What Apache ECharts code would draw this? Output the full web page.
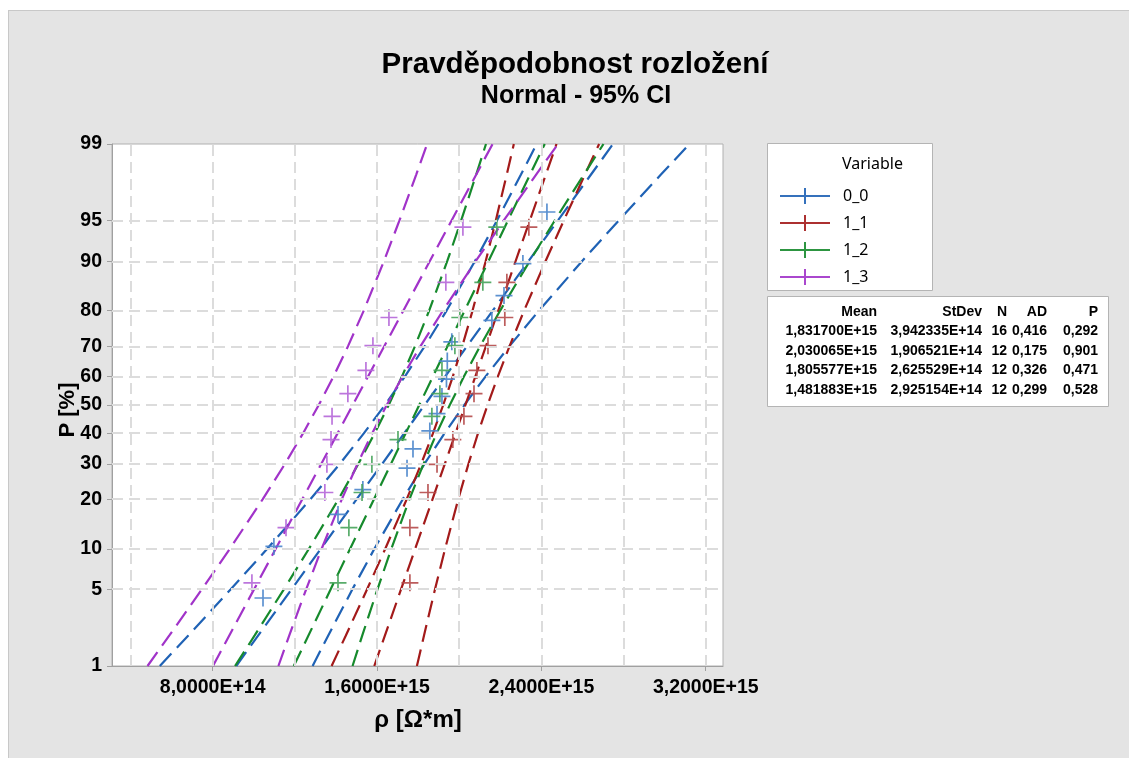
<!DOCTYPE html>
<html>
<head>
<meta charset="utf-8">
<script src="https://cdn.jsdelivr.net/npm/echarts@6/dist/echarts.min.js"></script>
<style>
html, body { margin: 0; padding: 0; background: #fff; }
#wrap { position: relative; width: 1129px; height: 758px; overflow: hidden; background: #fff; }
#frame { position: absolute; left: 8px; top: 10px; width: 1300px; height: 900px; background: #e4e4e4; border: 1px solid #c8c8c8; }
#chart { position: absolute; left: 0; top: 0; width: 1129px; height: 758px; }
</style>
</head>
<body>
<div id="wrap"><div id="frame"></div><div id="chart"></div></div>
<script>
// x values are in units of 1E+14 Ohm*m, percentiles in %
var names       = ['0_0', '1_1', '1_2', '1_3'];
var lineColors  = ['#1f62b5', '#a31a1a', '#168a2c', '#a133c9'];
var crossColors = ['#4a85cb', '#b54a4a', '#46a35a', '#b567d8'];

var pct16 = [4.27, 10.37, 16.46, 22.56, 28.66, 34.76, 40.85, 46.95, 53.05, 59.15, 65.24, 71.34, 77.44, 83.54, 89.63, 95.73];
var pct12 = [5.65, 13.71, 21.77, 29.84, 37.90, 45.97, 54.03, 62.10, 70.16, 78.23, 86.29, 94.35];

var x00 = [10.45, 10.98, 14.10, 15.31, 17.46, 17.75, 18.57, 18.92, 19.16, 19.38, 19.42, 19.64, 21.59, 22.18, 23.10, 24.27];
var x11 = [17.60, 17.60, 18.48, 18.92, 19.69, 20.23, 20.72, 20.86, 21.40, 22.22, 22.32, 23.39];
var x12 = [14.10, 14.63, 15.27, 15.75, 17.02, 18.67, 19.06, 19.16, 19.79, 20.03, 21.15, 21.83];
var x13 = [9.91, 11.57, 13.46, 13.56, 13.76, 13.81, 14.58, 15.46, 15.80, 16.58, 19.35, 20.18];

// fitted line ends (at 1 % and 99 %)
var fitPct = [1, 99];
var fit00 = [9.146, 27.488];
var fit11 = [15.866, 24.736];
var fit12 = [11.948, 24.164];
var fit13 = [8.014, 21.624];

// 95% CI bounds
var ciPct = [1, 2, 5, 10, 20, 30, 40, 50, 60, 70, 80, 90, 95, 98, 99];
var lo00 = [5.427, 6.815, 8.869, 10.657, 12.751, 14.189, 15.356, 16.385, 17.353, 18.324, 19.387, 20.762, 21.839, 23.007, 23.769];
var hi00 = [12.865, 13.627, 14.795, 15.872, 17.247, 18.310, 19.281, 20.249, 21.278, 22.445, 23.883, 25.977, 27.765, 29.819, 31.207];
var lo11 = [13.789, 14.483, 15.510, 16.401, 17.441, 18.150, 18.722, 19.222, 19.688, 20.150, 20.650, 21.288, 21.782, 22.314, 22.659];
var hi11 = [17.942, 18.287, 18.819, 19.313, 19.951, 20.451, 20.913, 21.379, 21.879, 22.451, 23.160, 24.200, 25.091, 26.118, 26.812];
var lo12 = [9.088, 10.045, 11.458, 12.686, 14.117, 15.094, 15.881, 16.570, 17.211, 17.848, 18.537, 19.416, 20.096, 20.828, 21.304];
var hi12 = [14.808, 15.283, 16.016, 16.696, 17.575, 18.264, 18.900, 19.541, 20.230, 21.017, 21.994, 23.426, 24.653, 26.067, 27.023];
var lo13 = [4.828, 5.893, 7.469, 8.836, 10.431, 11.520, 12.397, 13.164, 13.879, 14.588, 15.355, 16.334, 17.092, 17.908, 18.438];
var hi13 = [11.200, 11.730, 12.546, 13.304, 14.283, 15.050, 15.760, 16.474, 17.241, 18.118, 19.207, 20.802, 22.169, 23.745, 24.810];

// axes
var xLabelTicks = [8, 16, 24, 32];
var xGridTicks  = [4, 8, 12, 16, 20, 24, 28, 32];
var yTicks      = [1, 5, 10, 20, 30, 40, 50, 60, 70, 80, 90, 95, 99];
var yGridTicks  = [5, 10, 20, 30, 40, 50, 60, 70, 80, 90, 95];

// summary table
var statMean  = ['1,831700E+15', '2,030065E+15', '1,805577E+15', '1,481883E+15'];
var statStDev = ['3,942335E+14', '1,906521E+14', '2,625529E+14', '2,925154E+14'];
var statN     = ['16', '12', '12', '12'];
var statAD    = ['0,416', '0,175', '0,326', '0,299'];
var statP     = ['0,292', '0,901', '0,471', '0,528'];

var FONT = '"Liberation Sans", Arial, sans-serif';

/* Inverse normal CDF (probability scale of the y axis). */
function probit(p)
{
    var a = [-3.969683028665376e+01, 2.209460984245205e+02, -2.759285104469687e+02, 1.383577518672690e+02, -3.066479806614716e+01, 2.506628277459239e+00];
    var b = [-5.447609879822406e+01, 1.615858368580409e+02, -1.556989798598866e+02, 6.680131188771972e+01, -1.328068155288572e+01];
    var c = [-7.784894002430293e-03, -3.223964580411365e-01, -2.400758277161838e+00, -2.549732539343734e+00, 4.374664141464968e+00, 2.938163982698783e+00];
    var d = [7.784695709041462e-03, 3.224671290700398e-01, 2.445134137142996e+00, 3.754408661907416e+00];
    var pl = 0.02425, q, r;
    if(p < pl)
    {
        q = Math.sqrt(-2 * Math.log(p));
        return (((((c[0]*q+c[1])*q+c[2])*q+c[3])*q+c[4])*q+c[5]) / ((((d[0]*q+d[1])*q+d[2])*q+d[3])*q+1);
    }
    if(p > 1 - pl)
    {
        q = Math.sqrt(-2 * Math.log(1 - p));
        return -(((((c[0]*q+c[1])*q+c[2])*q+c[3])*q+c[4])*q+c[5]) / ((((d[0]*q+d[1])*q+d[2])*q+d[3])*q+1);
    }
    q = p - 0.5;
    r = q * q;
    return (((((a[0]*r+a[1])*r+a[2])*r+a[3])*r+a[4])*r+a[5])*q / (((((b[0]*r+b[1])*r+b[2])*r+b[3])*r+b[4])*r+1);
}

function pairs(xs, ps)
{
    return xs.map(function(x, i) { return [x, probit(ps[i] / 100)]; });
}

var points = [[x00, pct16], [x11, pct12], [x12, pct12], [x13, pct12]];
var fits   = [fit00, fit11, fit12, fit13];
var lows   = [lo00, lo11, lo12, lo13];
var highs  = [hi00, hi11, hi12, hi13];

var crossPath = 'path://M9,0h2v9h9v2h-9v9h-2v-9h-9v-2h9z';
var legendIcon = 'path://M0,7h50v2h-50zM24,0h2v16h-2z';
var dash = [17, 8];

var series = [];
/* Grid lines. */
series.push({
    type: 'line',
    data: [],
    silent: true,
    z: 1,
    markLine: {
        silent: true,
        symbol: ['none', 'none'],
        label: {show: false},
        lineStyle: {color: '#dcdcdc', type: [11, 6], width: 2},
        data: xGridTicks.map(function(v) { return {xAxis: v}; })
            .concat(yGridTicks.map(function(p) { return {yAxis: probit(p / 100)}; }))
    }
});

names.forEach(function(name, i)
{
    series.push({
        name: name,
        type: 'scatter',
        data: pairs(points[i][0], points[i][1]),
        symbol: crossPath,
        symbolSize: 17,
        itemStyle: {color: crossColors[i], opacity: 0.9},
        z: 4
    });
    var lines = [pairs(fits[i], fitPct), pairs(lows[i], ciPct), pairs(highs[i], ciPct)];
    lines.forEach(function(d)
    {
        series.push({
            name: name,
            type: 'line',
            data: d,
            showSymbol: false,
            symbol: 'none',
            lineStyle: {color: lineColors[i], width: 2.2, type: dash},
            itemStyle: {color: lineColors[i]},
            z: 3
        });
    });
});

/* Title, axis names and boxes. */
var graphic = [
    {type: 'text', x: 575, y: 65, z: 10, style: {text: 'Pravděpodobnost rozložení', font: 'bold 29.5px ' + FONT, fill: '#000', textAlign: 'center', textVerticalAlign: 'middle'}},
    {type: 'text', x: 576, y: 96, z: 10, style: {text: 'Normal - 95% CI', font: 'bold 25px ' + FONT, fill: '#000', textAlign: 'center', textVerticalAlign: 'middle'}},
    {type: 'text', x: 418, y: 720, z: 10, style: {text: 'ρ [Ω*m]', font: 'bold 24px ' + FONT, fill: '#000', textAlign: 'center', textVerticalAlign: 'middle'}},
    {type: 'text', x: 68, y: 410, rotation: Math.PI / 2, z: 10, style: {text: 'P [%]', font: 'bold 22px ' + FONT, fill: '#000', textAlign: 'center', textVerticalAlign: 'middle'}},
    {type: 'rect', shape: {x: 767.5, y: 143.5, width: 165, height: 147}, z: 0, style: {fill: '#fff', stroke: '#b4b4b4', lineWidth: 1}},
    {type: 'text', x: 842, y: 164, z: 10, style: {text: 'Variable', font: '16px "Noto Sans", sans-serif', fill: '#000', textAlign: 'left', textVerticalAlign: 'middle'}},
    {type: 'rect', shape: {x: 767.5, y: 296.5, width: 341, height: 110}, z: 0, style: {fill: '#fff', stroke: '#b4b4b4', lineWidth: 1}}
];

var cols = [
    {head: 'Mean',  right: 877,  vals: statMean},
    {head: 'StDev', right: 982,  vals: statStDev},
    {head: 'N',     right: 1007, vals: statN},
    {head: 'AD',    right: 1047, vals: statAD},
    {head: 'P',     right: 1098, vals: statP}
];
var rowY = [312, 331.5, 351, 370.5, 390];
cols.forEach(function(col)
{
    [col.head].concat(col.vals).forEach(function(t, r)
    {
        graphic.push({type: 'text', x: col.right, y: rowY[r], z: 10,
            style: {text: t, font: 'bold 14px ' + FONT, fill: '#000', textAlign: 'right', textVerticalAlign: 'middle'}});
    });
});

var chart = echarts.init(document.getElementById('chart'), null, {renderer: 'canvas'});
var option = {
    animation: false,
    backgroundColor: 'transparent',
    grid: {
        left: 112, top: 144, width: 611, height: 522,
        show: true, backgroundColor: '#fff', borderColor: '#b0b0b0', borderWidth: 1
    },
    xAxis: {
        type: 'value',
        min: 3.1,
        max: 32.84,
        axisLine: {show: true, onZero: false, lineStyle: {color: '#a0a0a0', width: 1}},
        axisTick: {show: true, customValues: xLabelTicks, length: 5, lineStyle: {color: '#a0a0a0'}},
        axisLabel: {
            customValues: xLabelTicks,
            margin: 12,
            color: '#000',
            fontFamily: FONT,
            fontWeight: 'bold',
            fontSize: 19.5,
            formatter: function(v) { return (v * 1e14).toExponential(4).replace('.', ',').replace('e+', 'E+'); }
        },
        splitLine: {show: false}
    },
    yAxis: {
        type: 'value',
        min: probit(0.01),
        max: probit(0.99),
        axisLine: {show: true, onZero: false, lineStyle: {color: '#a0a0a0', width: 1}},
        axisTick: {show: true, customValues: yTicks.map(function(p) { return probit(p / 100); }), length: 5, lineStyle: {color: '#a0a0a0'}},
        axisLabel: {
            customValues: yTicks.map(function(p) { return probit(p / 100); }),
            margin: 10,
            color: '#000',
            fontFamily: FONT,
            fontWeight: 'bold',
            fontSize: 19.5,
            formatter: function(v)
            {
                for(var i = 0; i < yTicks.length; i++)
                {
                    if(Math.abs(probit(yTicks[i] / 100) - v) < 1e-6) return String(yTicks[i]);
                }
                return '';
            }
        },
        splitLine: {show: false}
    },
    legend: {
        left: 775,
        top: 183,
        orient: 'vertical',
        z: 10,
        itemWidth: 50,
        itemHeight: 16,
        itemGap: 11,
        selectedMode: false,
        textStyle: {fontFamily: '"Noto Sans", sans-serif', fontSize: 16, color: '#000', padding: [0, 0, 0, 8]},
        data: names.map(function(n, i) { return {name: n, icon: legendIcon, itemStyle: {color: lineColors[i]}}; })
    },
    graphic: graphic,
    series: series
};
chart.setOption(option);
</script>
</body>
</html>
